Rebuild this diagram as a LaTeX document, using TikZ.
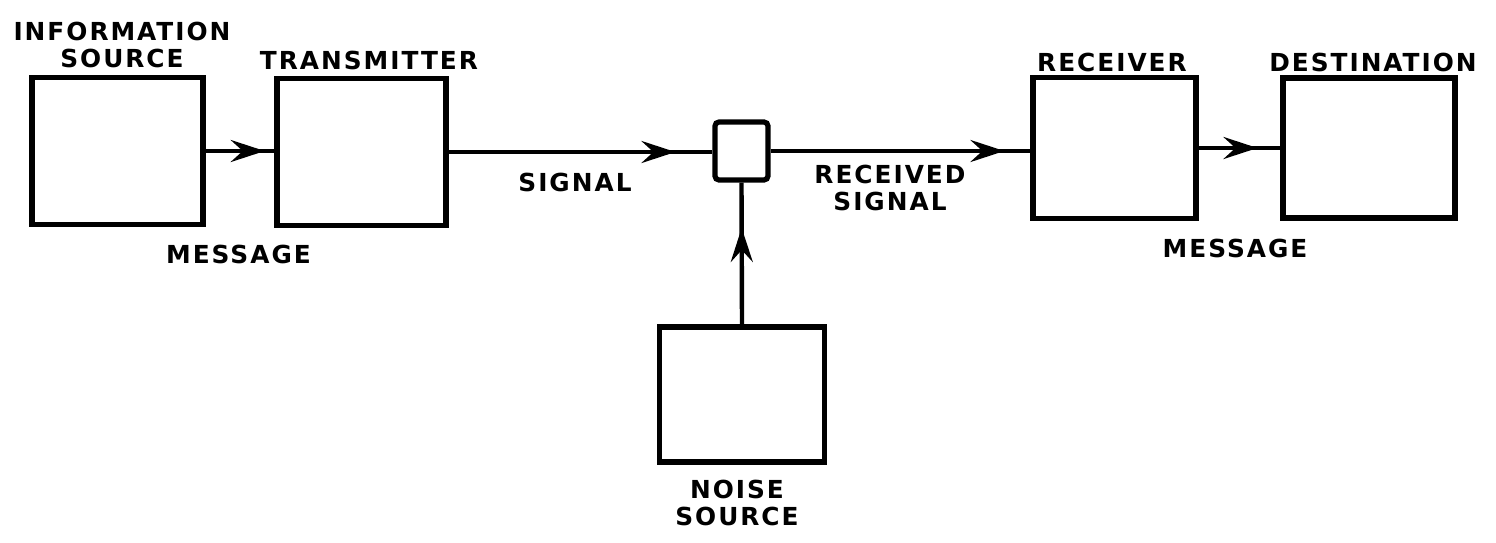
\documentclass[tikz,border=0pt]{standalone}
\usepackage{fontspec}
\usetikzlibrary{arrows.meta,decorations.markings}
\newfontfamily\labfont{DejaVu Sans}[LetterSpace=8]
\tikzset{
  box/.style={draw, line width=2.6pt, inner sep=0pt, rectangle},
  wire/.style={line width=2.2pt},
  lab/.style={inner sep=0pt, align=center, font={\labfont\bfseries\fontsize{12.4}{13.5}\selectfont}},
  midarrow/.style={postaction={decorate}, decoration={markings,
     mark=at position #1 with {\arrow{Stealth[length=17pt,width=11pt,inset=6pt]}}}}
}
\begin{document}
\begin{tikzpicture}[x=0.5pt,y=-0.5pt]
\useasboundingbox (0,0) rectangle (1496,542);
\node[box, minimum width=85.5pt, minimum height=73.5pt] (info) at (117.5,151) {};
\node[box, minimum width=84.5pt, minimum height=73.5pt] (trans) at (361.5,152) {};
\node[box, minimum width=26.5pt, minimum height=29pt, rounded corners=2pt] (mix) at (741.5,151) {};
\node[box, minimum width=81.5pt, minimum height=70.5pt] (rec) at (1114.5,148) {};
\node[box, minimum width=86pt, minimum height=70pt] (dest) at (1369,148) {};
\node[box, minimum width=82.5pt, minimum height=67.5pt] (noise) at (742,394.5) {};

\draw[wire, midarrow=0.86] (info.east) -- (info.east -| trans.west);
\draw[wire, midarrow=0.86] (trans.east) -- (trans.east -| mix.west);
\draw[wire, midarrow=0.9] (mix.east) -- (mix.east -| rec.west);
\draw[wire, midarrow=0.72] (rec.east) -- (rec.east -| dest.west);
\draw[wire, midarrow=0.68] (noise.north) -- (mix.south);

\node[lab] (linfo) at (122,44.5) {INFORMATION\\SOURCE};
\node[lab] (ltrans) at (369,60) {TRANSMITTER};
\node[lab] (lmsg1) at (238.5,254) {MESSAGE};
\node[lab] (lsig) at (575,182) {SIGNAL};
\node[lab] (lrsig) at (890,188) {RECEIVED\\SIGNAL};
\node[lab] (lrec) at (1112,62) {RECEIVER};
\node[lab] (ldest) at (1373,62) {DESTINATION};
\node[lab] (lmsg2) at (1235,248.5) {MESSAGE};
\node[lab] (lnoise) at (737,502.5) {NOISE\\SOURCE};
\end{tikzpicture}
\end{document}
